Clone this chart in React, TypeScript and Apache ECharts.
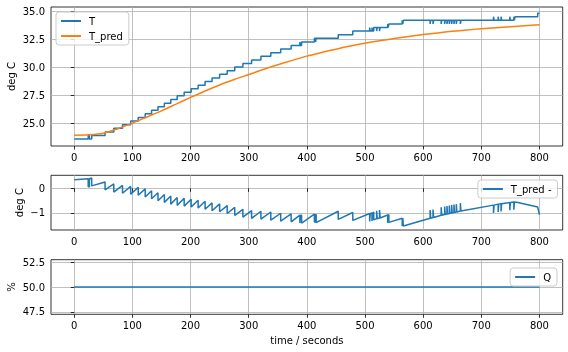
import React, { useEffect, useRef } from 'react';
import * as echarts from 'echarts';

// ---- tick labels ----
const xTicks = [0, 100, 200, 300, 400, 500, 600, 700, 800];
const topYTicks = [25, 27.5, 30, 32.5, 35];
const midYTicks = [-1, 0];
const botYTicks = [47.5, 50, 52.5];

// ---- measured temperature T (staircase, value holds until the next change) ----
const tTime = [
  0, 24, 26, 30, 53, 68, 83, 97, 110, 122, 133, 144, 155, 166, 177, 189, 201, 213, 225, 237,
  250, 263, 276, 290, 305, 321, 338, 355, 373, 388, 389, 391, 413, 415, 416, 454, 479,
  508, 509, 512, 513, 515, 520, 521, 525, 526, 539, 540, 541, 564, 565, 566,
  612, 613, 617, 618, 631, 632, 637, 638, 641, 642, 645, 646, 649, 650, 653, 654, 657, 658, 664, 665,
  721, 722, 729, 730, 734, 735, 749, 750, 756, 757, 758, 797, 800,
];
const tValue = [
  23.57, 23.89, 23.57, 23.89, 24.21, 24.54, 24.86, 25.18, 25.5, 25.83, 26.15, 26.47, 26.79, 27.12, 27.44, 27.76, 28.08, 28.4, 28.73, 29.05,
  29.37, 29.69, 30.02, 30.34, 30.66, 30.98, 31.31, 31.63, 31.95, 32.27, 31.95, 32.27, 32.59, 32.27, 32.59, 32.92, 33.24,
  33.56, 33.24, 33.56, 33.24, 33.56, 33.24, 33.56, 33.24, 33.56, 33.88, 33.56, 33.88, 34.21, 33.88, 34.21,
  33.88, 34.21, 33.88, 34.21, 33.88, 34.21, 33.88, 34.21, 33.88, 34.21, 33.88, 34.21, 33.88, 34.21, 33.88, 34.21, 33.88, 34.21, 33.88, 34.21,
  34.53, 34.21, 34.53, 34.21, 34.53, 34.21, 34.53, 34.21, 34.53, 34.21, 34.53, 34.85, 34.85,
];

// ---- model prediction T_pred ----
const predTime = [0, 25, 50, 75, 100, 125, 150, 175, 200, 225, 250, 275, 300, 325, 350, 375, 400, 425, 450, 475, 500, 525, 550, 575, 600, 625, 650, 675, 700, 725, 750, 775, 800];
const predValue = [23.92, 23.96, 24.1, 24.5, 25.0, 25.55, 26.1, 26.7, 27.3, 27.88, 28.42, 28.9, 29.35, 29.8, 30.22, 30.62, 31.0, 31.32, 31.62, 31.9, 32.15, 32.37, 32.57, 32.76, 32.93, 33.08, 33.22, 33.34, 33.45, 33.55, 33.64, 33.72, 33.8];

// ---- prediction error (middle panel) ----
const diffTime = [
  0, 24, 24, 26, 26, 30, 30, 53, 53, 68, 68, 83, 83, 97, 97, 110, 110, 122, 122, 133, 133, 144, 144, 155, 155,
  166, 166, 177, 177, 189, 189, 201, 201, 213, 213, 225, 225, 237, 237, 250, 250, 263, 263, 276, 276, 290, 290,
  305, 305, 321, 321, 338, 338, 355, 355, 373, 373, 388, 388, 389, 389, 391, 391, 413, 413, 415, 415, 416, 416,
  454, 454, 479, 479, 508, 508, 509, 509, 512, 512, 513, 513, 515, 515, 520, 520, 521, 521, 525, 525, 526, 526,
  539, 539, 540, 540, 541, 541, 564, 564, 565, 565, 566, 566,
  612, 612, 613, 613, 617, 617, 618, 618, 631, 631, 632, 632, 637, 637, 638, 638, 641, 641, 642, 642, 645, 645, 646, 646,
  649, 649, 650, 650, 653, 653, 654, 654, 657, 657, 658, 658, 664, 664, 665, 665,
  721, 721, 722, 722, 729, 729, 730, 730, 734, 734, 735, 735, 749, 749, 750, 750, 756, 756, 757, 757, 763, 797, 800,
];
const diffValue = [
  0.35, 0.39, 0.07, 0.07, 0.39, 0.42, 0.1, 0.26, -0.06, 0.18, -0.15, 0.12, -0.2, 0.08, -0.24, 0.04, -0.28, -0.02, -0.35, -0.1, -0.42, -0.18, -0.5, -0.25, -0.57,
  -0.31, -0.64, -0.37, -0.69, -0.4, -0.72, -0.44, -0.76, -0.48, -0.8, -0.52, -0.85, -0.59, -0.91, -0.63, -0.95, -0.7, -1.02, -0.77, -1.1, -0.85, -1.17,
  -0.9, -1.22, -0.93, -1.25, -0.96, -1.29, -1.01, -1.33, -1.04, -1.36, -1.09, -1.41, -1.41, -1.09, -1.09, -1.41, -1.05, -1.37, -1.37, -1.05, -1.07, -1.39,
  -0.93, -1.26, -0.98, -1.3, -1.02, -1.34, -1.34, -1.02, -1.0, -1.32, -1.32, -1.0, -0.96, -1.28, -1.23, -0.91, -0.91, -1.23, -1.2, -0.88, -0.88, -1.2,
  -1.08, -1.4, -1.4, -1.08, -1.06, -1.38, -1.21, -1.54, -1.54, -1.21, -1.2, -1.53,
  -1.21, -0.88, -0.88, -1.21, -1.18, -0.86, -0.86, -1.18, -1.09, -0.77, -0.77, -1.09, -1.06, -0.74, -0.74, -1.06, -1.04, -0.72, -0.72, -1.04, -1.02, -0.7, -0.7, -1.02,
  -1.0, -0.68, -0.68, -1.0, -0.98, -0.66, -0.66, -0.98, -0.96, -0.64, -0.64, -0.96, -0.92, -0.6, -0.6, -0.92,
  -0.68, -1.0, -1.0, -0.68, -0.64, -0.96, -0.96, -0.64, -0.62, -0.94, -0.94, -0.62, -0.57, -0.89, -0.89, -0.57, -0.55, -0.87, -0.87, -0.55, -0.57, -0.76, -1.07,
];

// ---- heater output Q ----
const qTime = [0, 800];
const qValue = [50, 50];

const zip = (a: number[], b: number[]) => a.map((v, i) => [v, b[i]]);

const FONT = 'DejaVu Sans';
const BLUE = '#1f77b4';
const ORANGE = '#ff7f0e';
const fmtMinus = (v: number, d: number) => (v < 0 ? '\u2212' : '') + Math.abs(v).toFixed(d);

const mkX = (gi: number, name?: string) => ({
  type: 'value',
  gridIndex: gi,
  min: -40,
  max: 840,
  axisLine: { show: false },
  axisTick: { show: true, length: 3.5, customValues: xTicks, lineStyle: { color: '#000', width: 0.8 } },
  axisLabel: { customValues: xTicks, margin: 6, fontSize: 10, color: '#000', fontFamily: FONT },
  splitLine: { show: true, lineStyle: { color: '#b0b0b0', width: 0.8 } },
  name: name || '',
  nameLocation: 'middle',
  nameGap: 21,
  nameMoveOverlap: false,
  nameTextStyle: { fontSize: 10, color: '#000', fontFamily: FONT },
});

const mkY = (gi: number, min: number, max: number, ticks: number[], d: number, name: string, gap: number) => ({
  type: 'value',
  gridIndex: gi,
  min,
  max,
  axisLine: { show: false },
  axisTick: { show: true, length: 3.5, customValues: ticks, lineStyle: { color: '#000', width: 0.8 } },
  axisLabel: {
    customValues: ticks,
    margin: 6,
    fontSize: 10,
    color: '#000',
    fontFamily: FONT,
    formatter: (v: number) => fmtMinus(v, d),
  },
  splitLine: { show: true, lineStyle: { color: '#b0b0b0', width: 0.8 } },
  name,
  nameLocation: 'middle',
  nameRotate: 90,
  nameGap: gap,
  nameMoveOverlap: false,
  nameTextStyle: { fontSize: 10, color: '#000', fontFamily: FONT },
});

const legendBase = {
  orient: 'vertical',
  backgroundColor: 'rgba(255,255,255,0.8)',
  borderColor: '#cccccc',
  borderWidth: 1,
  borderRadius: 3,
  padding: [4, 6, 4, 5],
  itemGap: 5,
  itemWidth: 20,
  itemHeight: 2,
  icon: 'rect',
  textStyle: { fontSize: 10, color: '#000', fontFamily: FONT, padding: [0, 0, 0, 3] },
};

export default function App() {
  const ref = useRef<HTMLDivElement>(null);
  useEffect(() => {
    if (!ref.current) return;
    const chart = echarts.init(ref.current, null, { renderer: 'svg' });
    const gridCommon = {
      show: true, borderColor: '#000', borderWidth: 0.8, left: 51, width: 511.7,
      containLabel: false, outerBoundsMode: 'none',
    };
    chart.setOption({
      animation: false,
      textStyle: { fontFamily: FONT },
      grid: [
        { ...gridCommon, top: 7, height: 139 },
        { ...gridCommon, top: 175.3, height: 54.7 },
        { ...gridCommon, top: 259.7, height: 54.6 },
      ],
      xAxis: [mkX(0), mkX(1), mkX(2, 'time / seconds')],
      yAxis: [
        mkY(0, 22.95, 35.4, topYTicks, 1, 'deg C', 35),
        mkY(1, -1.69, 0.53, midYTicks, 0, 'deg C', 27),
        mkY(2, 47.25, 52.75, botYTicks, 1, '%', 35),
      ],
      legend: [
        { ...legendBase, data: ['T', 'T_pred'], left: 56, top: 12 },
        { ...legendBase, data: ['T_pred -'], right: 10.5, top: 180 },
        { ...legendBase, data: ['Q'], right: 11, top: 268 },
      ],
      series: [
        {
          name: 'T', type: 'line', xAxisIndex: 0, yAxisIndex: 0, step: 'end', showSymbol: false,
          data: zip(tTime, tValue), lineStyle: { color: BLUE, width: 1.5 }, itemStyle: { color: BLUE },
        },
        {
          name: 'T_pred', type: 'line', xAxisIndex: 0, yAxisIndex: 0, smooth: 0.3, showSymbol: false,
          data: zip(predTime, predValue), lineStyle: { color: ORANGE, width: 1.5 }, itemStyle: { color: ORANGE },
        },
        {
          name: 'T_pred -', type: 'line', xAxisIndex: 1, yAxisIndex: 1, showSymbol: false,
          data: zip(diffTime, diffValue), lineStyle: { color: BLUE, width: 1.5 }, itemStyle: { color: BLUE },
        },
        {
          name: 'Q', type: 'line', xAxisIndex: 2, yAxisIndex: 2, showSymbol: false,
          data: zip(qTime, qValue), lineStyle: { color: BLUE, width: 1.5 }, itemStyle: { color: BLUE },
        },
      ],
    });
    return () => chart.dispose();
  }, []);
  return <div ref={ref} style={{ position: 'fixed', left: 0, top: 0, width: 568, height: 352 }} />;
}
